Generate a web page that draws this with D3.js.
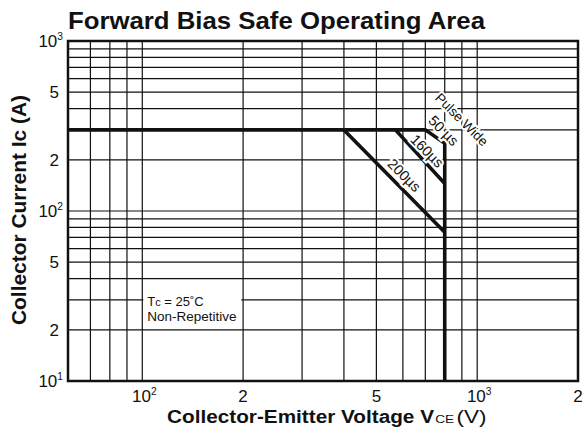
<!DOCTYPE html>
<html>
<head>
<meta charset="utf-8">
<script src="https://cdn.jsdelivr.net/npm/d3@7"></script>
<style>
body { margin: 0; background: #fff; }
text { font-family: "Liberation Sans", Arial, sans-serif; fill: #111; }
</style>
</head>
<body>
<div id="chart"></div>
<script>
// Forward bias SOA, log-log

var width = 587, height = 435;
var margin = {top: 41, right: 9, bottom: 54, left: 68};

// axis ranges and grid
var vceDomain = [60, 2000];
var icDomain = [10, 1000];
var vceGrid = [70, 80, 90, 100, 200, 300, 400, 500, 600, 700, 800, 900, 1000];
var icGrid = [20, 30, 40, 50, 60, 70, 80, 90, 100, 200, 300, 400, 500, 600, 700, 800, 900];

// tick labels: [value, base, exponent]
var vceTicks = [[100, "10", "2"], [200, "2", ""], [500, "5", ""], [1000, "10", "3"], [2000, "2", ""]];
var icTicks = [[1000, "10", "3"], [500, "5", ""], [200, "2", ""], [100, "10", "2"], [50, "5", ""], [20, "2", ""], [10, "10", "1"]];

// SOA boundary (50us pulse, then voltage limit)
var limitV = [60, 700, 800, 800];
var limitI = [300, 300, 250, 10];
// 160us pulse
var p160V = [570, 800];
var p160I = [300, 145];
// 200us pulse
var p200V = [400, 800];
var p200I = [300, 75];

// curve labels: text, anchor on curve (V, I), offset above curve
var labelText = ["Pulse Wide", "50 \u00b5s", "160\u00b5s", "200\u00b5s"];
var labelV = [756, 756, 678, 574];
var labelI = [270, 270, 207, 146];
var labelDy = [-26, -5, -4, -6];
var labelDx = [5, 0, 0, 0];

var svg = d3.select("#chart").append("svg")
	.attr("width", width)
	.attr("height", height);

var x = d3.scaleLog().domain(vceDomain).range([margin.left, width - margin.right]);
var y = d3.scaleLog().domain(icDomain).range([height - margin.bottom, margin.top]);

var grid = svg.append("g").attr("stroke", "#111").attr("stroke-width", 1.2);

grid.selectAll("line.v")
	.data(vceGrid)
	.enter().append("line")
	.attr("x1", function(d) { return x(d); })
	.attr("x2", function(d) { return x(d); })
	.attr("y1", y(icDomain[0]))
	.attr("y2", y(icDomain[1]));

grid.selectAll("line.h")
	.data(icGrid)
	.enter().append("line")
	.attr("y1", function(d) { return y(d); })
	.attr("y2", function(d) { return y(d); })
	.attr("x1", x(vceDomain[0]))
	.attr("x2", x(vceDomain[1]));

// frame
svg.append("rect")
	.attr("x", x(vceDomain[0]))
	.attr("y", y(icDomain[1]))
	.attr("width", x(vceDomain[1]) - x(vceDomain[0]))
	.attr("height", y(icDomain[0]) - y(icDomain[1]))
	.attr("fill", "none")
	.attr("stroke", "#111")
	.attr("stroke-width", 2.5);

// legend box (white behind text)
var legendX = x(100) + 1;
svg.append("rect")
	.attr("x", legendX)
	.attr("y", y(36))
	.attr("width", 98)
	.attr("height", y(21.5) - y(36))
	.attr("fill", "#fff");

var tc = svg.append("text")
	.attr("x", legendX + 4)
	.attr("y", y(27.5))
	.attr("font-size", 13);
tc.append("tspan").text("T");
tc.append("tspan").attr("font-size", 11).text("c");
tc.append("tspan").text(" = 25˚C");

svg.append("text")
	.attr("x", legendX + 4)
	.attr("y", y(22.6))
	.attr("font-size", 13.5)
	.text("Non-Repetitive");

// SOA curves
var line = d3.line()
	.x(function(d) { return x(d[0]); })
	.y(function(d) { return y(d[1]); });

var curves = [d3.zip(limitV, limitI), d3.zip(p160V, p160I), d3.zip(p200V, p200I)];

svg.selectAll("path.soa")
	.data(curves)
	.enter().append("path")
	.attr("d", line)
	.attr("fill", "none")
	.attr("stroke", "#111")
	.attr("stroke-width", 3.6)
	.attr("stroke-linejoin", "miter");

// rotated labels along the curves, with white halo
svg.selectAll("text.cl")
	.data(labelText)
	.enter().append("text")
	.attr("transform", function(d, i) {
		return "translate(" + [x(labelV[i]), y(labelI[i])] + ") rotate(45)";
	})
	.attr("text-anchor", "middle")
	.attr("dx", function(d, i) { return labelDx[i]; })
	.attr("dy", function(d, i) { return labelDy[i]; })
	.attr("font-size", function(d, i) { return i == 0 ? 13.5 : 14.5; })
	.attr("stroke", "#fff")
	.attr("stroke-width", 4)
	.attr("paint-order", "stroke")
	.text(function(d) { return d; });

// tick labels
function tickLabel(sel, d, size) {
	sel.append("tspan").text(d[1]);
	if (d[2]) {
		sel.append("tspan")
			.attr("font-size", size * 0.6)
			.attr("dy", -size * 0.42)
			.text(d[2]);
	}
}

svg.selectAll("text.xt")
	.data(vceTicks)
	.enter().append("text")
	.attr("x", function(d) { return x(d[0]) + (d[2] ? 2 : 0); })
	.attr("y", 402)
	.attr("text-anchor", "middle")
	.attr("font-size", 17)
	.each(function(d) { tickLabel(d3.select(this), d, 17); });

svg.selectAll("text.yt")
	.data(icTicks)
	.enter().append("text")
	.attr("x", function(d) { return d[2] ? 63 : 59; })
	.attr("y", function(d) { return y(d[0]) + 6; })
	.attr("text-anchor", "end")
	.attr("font-size", 17)
	.each(function(d) { tickLabel(d3.select(this), d, 17); });

// title
svg.append("text")
	.attr("x", 68)
	.attr("y", 29)
	.attr("font-size", 24)
	.attr("font-weight", "bold")
	.attr("textLength", 417)
	.attr("lengthAdjust", "spacingAndGlyphs")
	.text("Forward Bias Safe Operating Area");

// x axis title, stretched wide like the scan
var xg = svg.append("g");
var xt = xg.append("text")
	.attr("font-size", 17.5)
	.attr("font-weight", "bold");
xt.append("tspan").text("Collector-Emitter Voltage V");
xt.append("tspan").attr("font-size", 11.5).attr("font-weight", "normal").attr("dx", 1).text("CE");
xt.append("tspan").attr("font-size", 19).attr("font-weight", "normal").attr("dx", 2).text("(V)");
var xtw = xt.node().getComputedTextLength();
xg.attr("transform", "translate(167,423) scale(" + (316 / xtw) + ",1)");

// y axis title
svg.append("text")
	.attr("transform", "translate(26,210) rotate(-90)")
	.attr("text-anchor", "middle")
	.attr("font-size", 20)
	.attr("font-weight", "bold")
	.attr("textLength", 230)
	.attr("lengthAdjust", "spacingAndGlyphs")
	.text("Collector Current Ic (A)");
</script>
</body>
</html>
